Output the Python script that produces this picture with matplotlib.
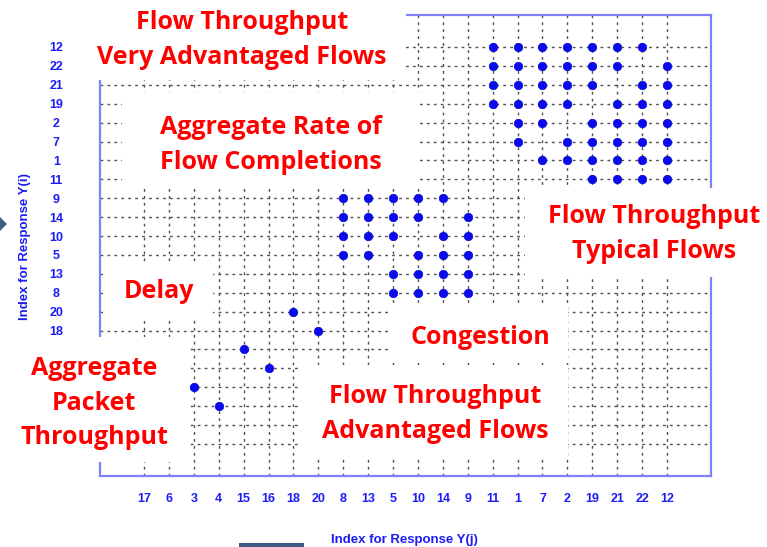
import matplotlib
matplotlib.use('Agg')
import matplotlib.pyplot as plt
from matplotlib.patches import Rectangle, Polygon

# response index order, shared by both axes (x left->right, y bottom->top)
order = [17, 6, 3, 4, 15, 16, 18, 20, 8, 13, 5, 10, 14, 9,
         11, 1, 7, 2, 19, 21, 22, 12]

# significant pairs, row response -> column responses
links = {
    12: [11, 1, 7, 2, 19, 21, 22],
    22: [11, 1, 7, 2, 19, 21, 12],
    21: [11, 1, 7, 2, 19, 22, 12],
    19: [11, 1, 7, 2, 21, 22, 12],
    2: [1, 7, 19, 21, 22, 12],
    7: [1, 2, 19, 21, 22, 12],
    1: [7, 2, 19, 21, 22, 12],
    11: [19, 21, 22, 12],
    9: [8, 13, 5, 10, 14],
    14: [8, 13, 5, 10, 9],
    10: [8, 13, 5, 14, 9],
    5: [8, 13, 10, 14, 9],
    13: [5, 10, 14, 9],
    8: [5, 10, 14, 9],
    20: [18],
    18: [20],
    16: [15],
    15: [16],
    4: [3],
    3: [4],
}

# group captions
captions = [
    'Flow Throughput\nVery Advantaged Flows',
    'Aggregate Rate of\nFlow Completions',
    'Flow Throughput\nTypical Flows',
    'Delay',
    'Congestion',
    'Aggregate\nPacket\nThroughput',
    'Flow Throughput\nAdvantaged Flows',
]

W, H = 767, 547
BLUE = '#1c1cf5'
AXIS = '#8080f8'
RED = '#ff0000'

fig = plt.figure(figsize=(W / 100, H / 100), dpi=100)
fig.patch.set_facecolor('white')
ax = fig.add_axes([100 / W, 1 - 476 / H, 611 / W, 461 / H])

pos = {lab: k for k, lab in enumerate(order)}
xs, ys = [], []
for row, cols in links.items():
    for col in cols:
        xs.append(pos[col])
        ys.append(pos[row])
ax.plot(xs, ys, 'o', ms=6.2, color='#0a0aee', mec='#0000c8', mew=0.4,
        zorder=3, clip_on=False)

n = len(order)
ax.set_xlim(-1.77, n - 1 + 1.77)
ax.set_ylim(-1.69, n - 1 + 1.69)
ax.set_xticks(range(n))
ax.set_yticks(range(n))
tick_font = dict(family='Liberation Sans', fontweight='bold', fontsize=9,
                 color=BLUE)
ax.set_xticklabels([str(v) for v in order], **tick_font)
ax.set_yticklabels([str(v) for v in order], **tick_font)
for k, t in enumerate(ax.get_yticklabels()):
    t.set_horizontalalignment('center')
    # rows below 18 sit under the packet throughput panel
    if k < pos[18]:
        t.set_visible(False)
ax.tick_params(axis='x', length=0, pad=12.5)
ax.tick_params(axis='y', length=0, pad=31.5)
ax.grid(True, color='#505050', lw=1.0, ls=(0, (2, 3)), zorder=1)
ax.set_axisbelow(True)
for s in ax.spines.values():
    s.set_color(AXIS)
    s.set_linewidth(1.6)

label_font = dict(tick_font, fontsize=9.5)
ax.set_xlabel('Index for Response Y(j)', **label_font)
ax.set_ylabel('Index for Response Y(i)', **label_font)
ax.xaxis.label.set_verticalalignment('center')
ax.yaxis.label.set_verticalalignment('center')
ax.xaxis.set_label_coords((404 - 100) / 611, -(540 - 476) / 461)
ax.yaxis.set_label_coords((25 - 100) / 611, (476 - 246) / 461)

# overlay in pixel coordinates for the caption panels
ov = fig.add_axes([0, 0, 1, 1])
ov.set_zorder(5)
ov.set_xlim(0, W)
ov.set_ylim(H, 0)
ov.axis('off')
ov.patch.set_alpha(0)

panels = [
    (75, 0, 331, 80),
    (122, 92, 298, 96),
    (525, 188, 242, 89),
    (103, 262, 110, 56),
    (10, 337, 177, 125),
    (388, 303, 180, 60),
    (298, 365, 270, 93),
]
centers = [(242, 40), (271, 145), (654, 234), (159, 292), (480, 337),
           (94, 403), (435, 414)]
for (x0, y0, w, h), (cx, cy), text in zip(panels, centers, captions):
    ov.add_patch(Rectangle((x0, y0), w, h, fc='white', ec='none'))
    ov.text(cx, cy, text, ha='center', va='center', color=RED,
            fontsize=18, fontweight='bold', family='Open Sans',
            linespacing=1.5)

# slide decorations at the edges
ov.add_patch(Polygon([(0, 217), (7, 224), (0, 231)], closed=True,
                     fc='#3f5f82', ec='none'))
ov.add_patch(Rectangle((239, 543), 65, 4, fc='#3d5c85', ec='none'))

fig.savefig('out.png', dpi=100)
